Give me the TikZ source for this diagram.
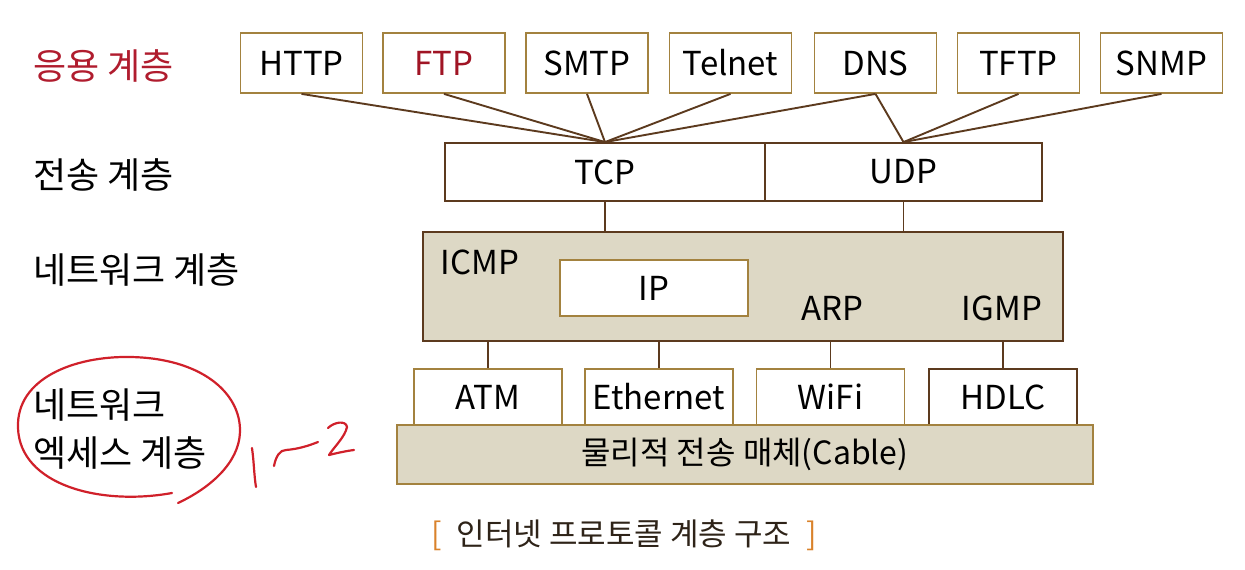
\documentclass[tikz,border=0pt]{standalone}
\usepackage{fontspec}
\setmainfont{Noto Sans CJK KR}
\definecolor{lblred}{HTML}{B01C2E}
\definecolor{ftpred}{HTML}{A01424}
\definecolor{gold}{HTML}{A3823F}
\definecolor{dbrown}{HTML}{5C3A1E}
\definecolor{beige}{HTML}{DDD8C5}
\definecolor{brk}{HTML}{D9822B}
\definecolor{captxt}{HTML}{2E2318}
\definecolor{pen}{HTML}{D0202A}
\begin{document}
\begin{tikzpicture}[x=1pt,y=-1pt,
  appbox/.style={draw=gold,line width=1.8pt,fill=white,minimum width=122pt,minimum height=60pt,inner sep=0pt,font=\fontsize{33}{38}\selectfont},
  tbox/.style={draw=dbrown,line width=1.8pt,fill=white,minimum height=58pt,inner sep=0pt,font=\fontsize{33}{38}\selectfont},
  linkbox/.style={draw=gold,line width=1.8pt,fill=white,minimum width=148pt,minimum height=56pt,inner sep=0pt,font=\fontsize{33}{38}\selectfont},
  bigbox/.style={line width=1.8pt,fill=beige,inner sep=0pt},
  proto/.style={inner sep=0pt,font=\fontsize{33}{38}\selectfont},
  layer/.style={anchor=west,inner sep=0pt,font=\fontsize{36}{48}\selectfont,align=left},
  conn/.style={draw=dbrown,line width=1.9pt},
  hand/.style={draw=pen,line width=2.2pt,line cap=round,line join=round}]
\useasboundingbox (0,0) rectangle (1245,570);
% application layer
\node[appbox] (http) at (301.5,63) {HTTP};
\node[appbox,text=ftpred] (ftp) at (444,63) {FTP};
\node[appbox] (smtp) at (587,63) {SMTP};
\node[appbox] (telnet) at (730.5,63) {Telnet};
\node[appbox] (dns) at (875.5,63) {DNS};
\node[appbox] (tftp) at (1018.5,63) {TFTP};
\node[appbox] (snmp) at (1161.5,63) {SNMP};
% transport
\node[tbox,minimum width=320pt] (tcp) at (605,172) {TCP};
\node[tbox,minimum width=277pt] (udp) at (903.5,172) {UDP};
% connectors app -> transport
\foreach \a in {http,ftp,smtp,telnet,dns} \draw[conn] (\a.south) -- (tcp.north);
\foreach \a in {dns,tftp,snmp} \draw[conn] (\a.south) -- (udp.north);
% network layer
\node[bigbox,draw=dbrown,minimum width=640pt,minimum height=109pt] (net) at (743,286.5) {};
\node[proto] (icmp) at (480,262) {ICMP};
\node[draw=gold,line width=1.8pt,fill=white,minimum width=188pt,minimum height=56pt,inner sep=0pt,font=\fontsize{33}{38}\selectfont] (ip) at (654,288) {IP};
\node[proto] (arp) at (832,308) {ARP};
\node[proto] (igmp) at (1002,308) {IGMP};
\draw[conn] (tcp.south) -- (tcp.south |- net.north);
\draw[conn] (udp.south) -- (udp.south |- net.north);
% link layer
\node[linkbox] (atm) at (488,397) {ATM};
\node[linkbox] (eth) at (659,397) {Ethernet};
\node[linkbox] (wifi) at (830.5,397) {WiFi};
\node[linkbox,draw=dbrown] (hdlc) at (1003,397) {HDLC};
\foreach \a in {atm,eth,wifi,hdlc} \draw[conn] (\a.north |- net.south) -- (\a.north);
% physical medium
\node[bigbox,draw=gold,minimum width=696pt,minimum height=59pt,font=\fontsize{32}{36}\selectfont] (phy) at (745,454.5) {물리적 전송 매체(Cable)};
% layer labels
\node[layer,text=lblred] (l1) at (33,66) {응용 계층};
\node[layer] (l2) at (33,175) {전송 계층};
\node[layer] (l3) at (33,270) {네트워크 계층};
\node[layer] (l4) at (33,429) {네트워크\\엑세스 계층};
% caption
\node[inner sep=0pt,font=\fontsize{31}{36}\selectfont,text=captxt] (cap) at (624,535) {\textcolor{brk}{[}\hspace{8pt} 인터넷 프로토콜 계층 구조 \hspace{8pt}\textcolor{brk}{]}};
% handwritten annotation
\draw[hand] (172,493) .. controls (100,506) and (20,485) .. (18,428)
  .. controls (16,378) and (75,356) .. (130,357)
  .. controls (200,358) and (241,392) .. (240,432)
  .. controls (239,463) and (210,488) .. (178,503);
\draw[hand] (252,448) .. controls (254,462) and (254,475) .. (256,487);
\draw[hand] (274,466) .. controls (276,456) and (280,450) .. (286,450)
  .. controls (298,449) and (308,446) .. (318,442);
\draw[hand] (328,428) .. controls (334,422) and (346,420) .. (347,427)
  .. controls (345,437) and (334,447) .. (329,455)
  .. controls (337,453) and (346,451) .. (354,450);
\end{tikzpicture}
\end{document}
